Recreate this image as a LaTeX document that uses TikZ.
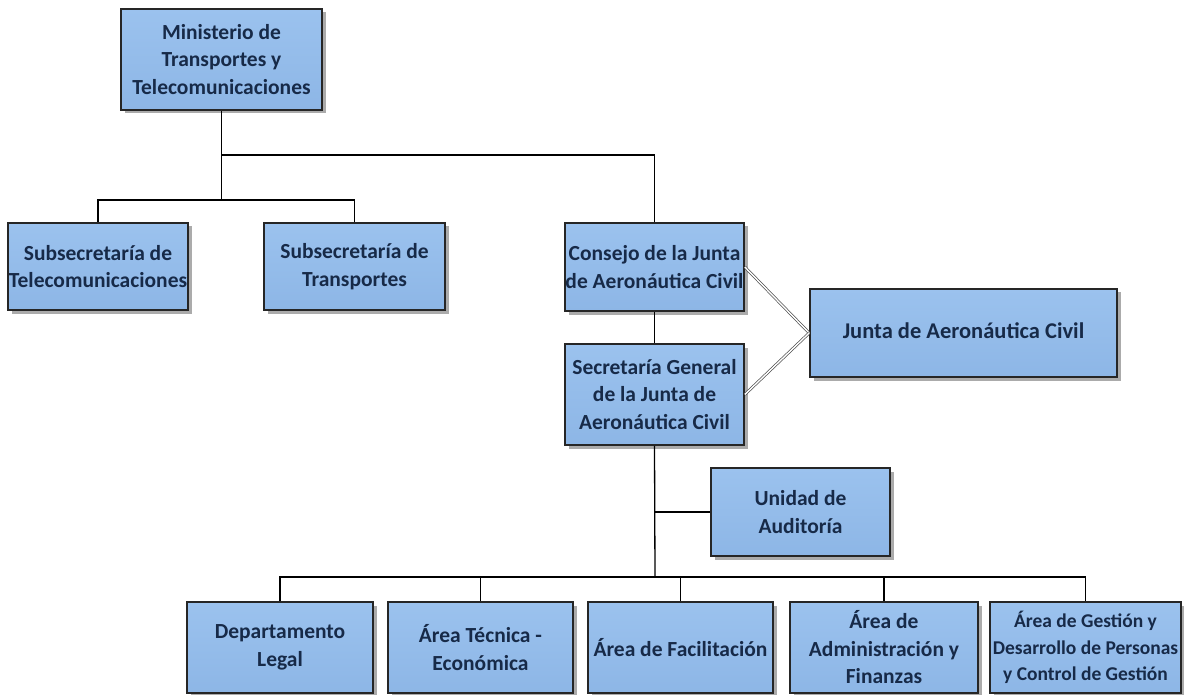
\documentclass[tikz,border=0pt]{standalone}
\usepackage{fontspec}
\setmainfont{Carlito}
\usetikzlibrary{shadows}
\definecolor{boxfill}{HTML}{8DB6E6}
\definecolor{boxtop}{HTML}{9BC2EE}
\definecolor{txt}{HTML}{172A48}
\tikzset{
  orgbox/.style={draw=black!85, line width=1.6pt, top color=boxtop, bottom color=boxfill,
    rectangle, inner sep=0pt, align=center, text=txt,
    font=\fontsize{21.5}{27.5}\selectfont\bfseries,
    drop shadow={shadow xshift=3.5pt, shadow yshift=-3.5pt, fill=black!55, opacity=0.6}},
  link/.style={draw=black, line width=1.3pt},
  dlink/.style={draw=black!70, line width=0.7pt, double=white, double distance=1.4pt}
}
\begin{document}
\begin{tikzpicture}[x=1pt,y=-1pt]
\useasboundingbox (0,0) rectangle (1184,695);
% nodes
\node[orgbox, minimum width=201pt, minimum height=101pt] (min) at (221.5,59.5) {Ministerio de\\Transportes y\\Telecomunicaciones};
\node[orgbox, minimum width=180pt, minimum height=87pt] (subtel) at (98,266.5) {Subsecretaría de\\Telecomunicaciones};
\node[orgbox, minimum width=181pt, minimum height=87pt] (subtr) at (354.5,266.5) {Subsecretaría de\\Transportes};
\node[orgbox, minimum width=179pt, minimum height=88pt] (consejo) at (654.5,267) {Consejo de la Junta\\de Aeronáutica Civil};
\node[orgbox, minimum width=179pt, minimum height=101pt] (secre) at (654.5,394.5) {Secretaría General\\de la Junta de\\Aeronáutica Civil};
\node[orgbox, minimum width=307pt, minimum height=88pt, font=\fontsize{22.5}{28}\selectfont\bfseries] (junta) at (963.5,333) {\raisebox{5pt}{Junta de Aeronáutica Civil}};
\node[orgbox, minimum width=179pt, minimum height=88pt] (unidad) at (800.5,512) {Unidad de\\Auditoría};
\node[orgbox, minimum width=186pt, minimum height=91pt] (legal) at (280,647.5) {Departamento\\Legal};
\node[orgbox, minimum width=185pt, minimum height=91pt] (tecnica) at (480.5,647.5) {Área Técnica -\\Económica};
\node[orgbox, minimum width=185pt, minimum height=91pt] (facil) at (680.5,647.5) {Área de Facilitación};
\node[orgbox, minimum width=188pt, minimum height=91pt] (admin) at (884,647.5) {Área de\\Administración y\\Finanzas};
\node[orgbox, minimum width=191pt, minimum height=91pt, font=\fontsize{19.5}{26.5}\selectfont\bfseries] (gestion) at (1085.5,647.5) {Área de Gestión y\\Desarrollo de Personas\\y Control de Gestión};
% junctions
\coordinate (b0) at (221.5,155);
\coordinate (b1) at (221.5,200);
\coordinate (b2) at (655,577);
% connectors
\draw[link] (min.south) -- (b1);
\draw[link] (b1) -| (subtel.north);
\draw[link] (b1) -| (subtr.north);
\draw[link] (b0) -| (consejo.north);
\draw[link] (consejo.south) -- (secre.north);
\draw[link] (secre.south) -- (b2);
\draw[link] (unidad.west) -- (secre.south |- unidad.west);
\draw[link] (b2) -| (legal.north);
\draw[link] (b2) -| (tecnica.north);
\draw[link] (b2) -| (facil.north);
\draw[link] (b2) -| (admin.north);
\draw[link] (b2) -| (gestion.north);
\draw[dlink] (consejo.east) -- (junta.west);
\draw[dlink] (secre.east) -- (junta.west);
\end{tikzpicture}
\end{document}
